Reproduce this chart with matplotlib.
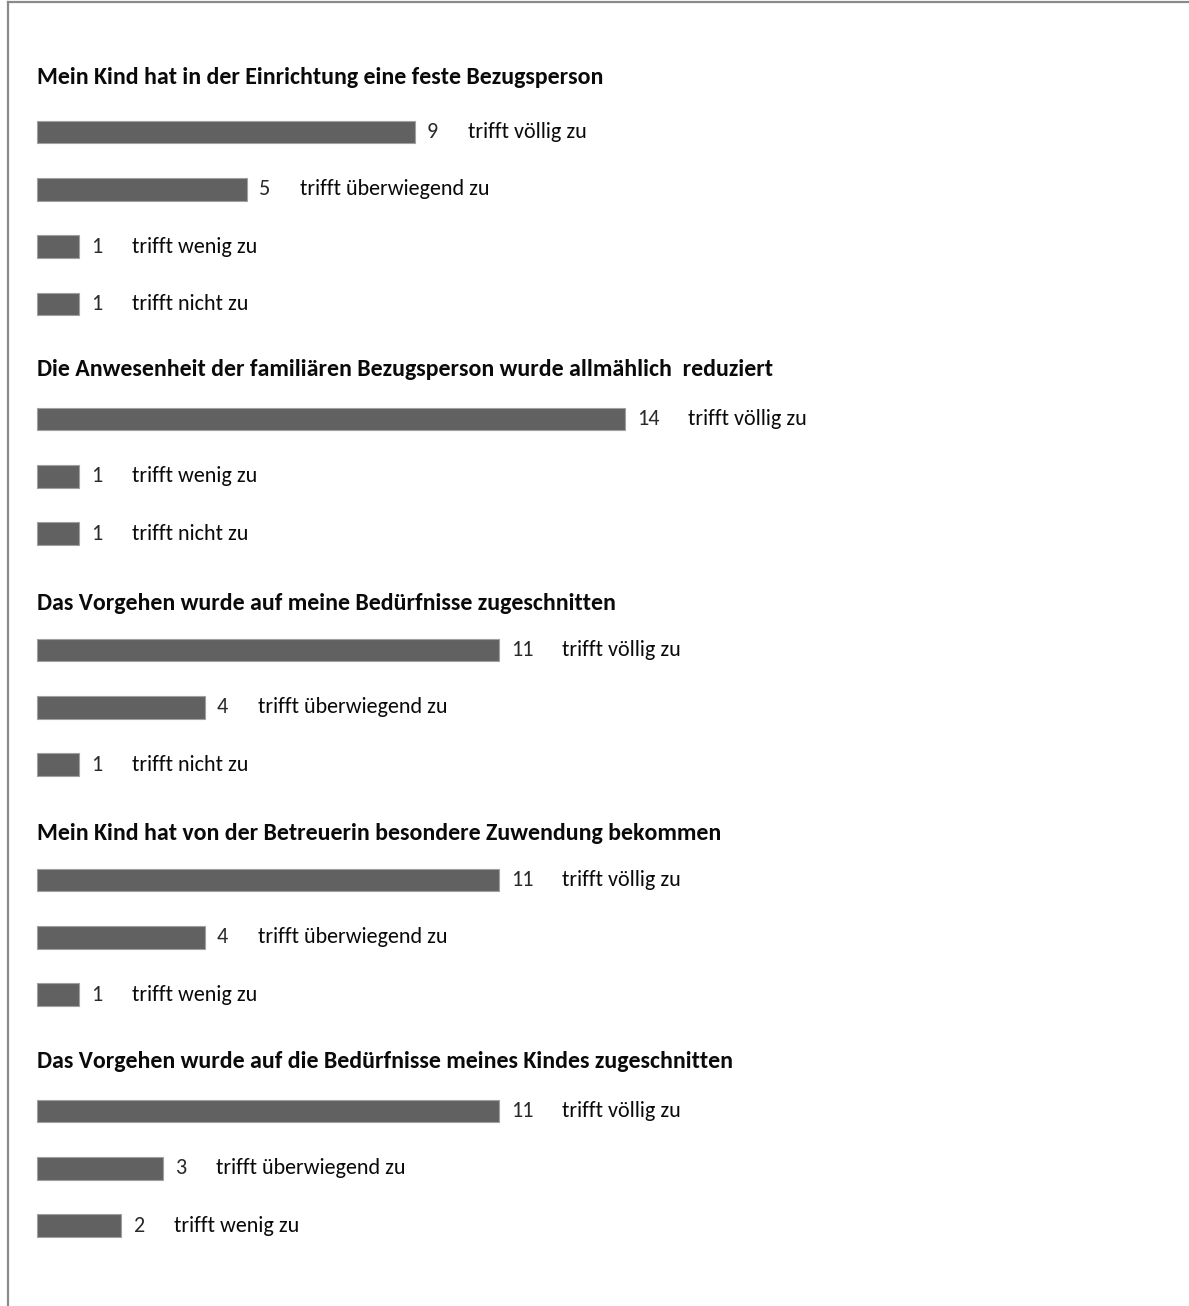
import matplotlib
matplotlib.use("Agg")
import matplotlib.pyplot as plt
from matplotlib import font_manager
from matplotlib.font_manager import FontProperties
from matplotlib.lines import Line2D

# ---------------- data ----------------
questions = [
    "Mein Kind hat in der Einrichtung eine feste Bezugsperson",
    "Die Anwesenheit der familiären Bezugsperson wurde allmählich  reduziert",
    "Das Vorgehen wurde auf meine Bedürfnisse zugeschnitten",
    "Mein Kind hat von der Betreuerin besondere Zuwendung bekommen",
    "Das Vorgehen wurde auf die Bedürfnisse meines Kindes zugeschnitten",
]
q1_labels = ["trifft völlig zu", "trifft überwiegend zu", "trifft wenig zu", "trifft nicht zu"]
q1_values = [9, 5, 1, 1]
q2_labels = ["trifft völlig zu", "trifft wenig zu", "trifft nicht zu"]
q2_values = [14, 1, 1]
q3_labels = ["trifft völlig zu", "trifft überwiegend zu", "trifft nicht zu"]
q3_values = [11, 4, 1]
q4_labels = ["trifft völlig zu", "trifft überwiegend zu", "trifft wenig zu"]
q4_values = [11, 4, 1]
q5_labels = ["trifft völlig zu", "trifft überwiegend zu", "trifft wenig zu"]
q5_values = [11, 3, 2]

groups = [
    (questions[0], q1_labels, q1_values),
    (questions[1], q2_labels, q2_values),
    (questions[2], q3_labels, q3_values),
    (questions[3], q4_labels, q4_values),
    (questions[4], q5_labels, q5_values),
]

# ---------------- fonts ----------------
def find_font(bold):
    cands = []
    for f in font_manager.fontManager.ttflist:
        fn = f.fname.lower()
        name = f.name.lower()
        is_bold = (f.weight in ("bold", 700) or (isinstance(f.weight, int) and f.weight >= 600)
                   or "bold" in fn)
        if is_bold != bold:
            continue
        if "italic" in fn or "oblique" in fn:
            continue
        if "semicond" in fn or "extracond" in fn:
            continue
        if name == "carlito":
            cands.append((0, f.fname))
        elif "narrow" in fn or "narrow" in name:
            cands.append((1, f.fname))
        elif "condensed" in fn and "cjk" not in fn:
            if bold and ("semibold" in fn or "extrabold" in fn or "black" in fn):
                continue
            if (not bold) and ("light" in fn or "thin" in fn or "medium" in fn):
                continue
            cands.append((2, f.fname))
    cands.sort()
    if cands:
        return FontProperties(fname=cands[0][1])
    fam = [n for n in ["Lato", "Roboto", "DejaVu Sans"]
           if n in {f.name for f in font_manager.fontManager.ttflist}][0]
    return FontProperties(family=fam, weight="bold" if bold else "normal")

fp_title = find_font(True)
fp_text = find_font(False)

# ---------------- layout (pixels) ----------------
W, H = 1189, 1306
DPI = 100
PX_PER_UNIT = 42.0
X0_PX = 37.0
title_y = [78, 369, 604, 833, 1062]
first_bar_gap = [54, 50, 46, 47, 49]
row_step = 57.3
bar_h = 22.5

fig = plt.figure(figsize=(W / DPI, H / DPI), dpi=DPI)
ax = fig.add_axes([0, 0, 1, 1])
ax.set_xlim(-X0_PX / PX_PER_UNIT, (W - X0_PX) / PX_PER_UNIT)
ax.set_ylim(H, 0)
ax.axis("off")
renderer = fig.canvas.get_renderer()


def fit_size(text, fp, target_px, base=20.0, max_size=None):
    t = fig.text(0, 0, text, fontproperties=fp, fontsize=base)
    w = t.get_window_extent(renderer=renderer).width
    t.remove()
    s = base * target_px / w
    if max_size is not None:
        s = min(s, max_size)
    return s

title_size = fit_size(questions[0], fp_title, 565, max_size=19)
label_size = fit_size("trifft überwiegend zu", fp_text, 190, max_size=16)
value_size = max(fit_size("14", fp_text, 20, max_size=17), label_size)

bar_color = "#616161"
for (title, labels, values), ty, gap in zip(groups, title_y, first_bar_gap):
    ax.text(0, ty, title, fontproperties=fp_title, fontsize=title_size, color="#0a0a0a",
            ha="left", va="center")
    ys = [ty + gap + i * row_step for i in range(len(values))]
    ax.barh(ys, values, height=bar_h, left=0, color=bar_color,
            edgecolor="#a0a0a0", linewidth=0.8)
    for y, v, lab in zip(ys, values, labels):
        vs = str(v)
        ax.annotate(vs, (v, y), xytext=(12, 0), textcoords="offset pixels",
                    fontproperties=fp_text, fontsize=value_size, color="#2a2a2a",
                    ha="left", va="center")
        ax.annotate(lab, (v, y), xytext=(12 + 10 * len(vs) + 31, 0),
                    textcoords="offset pixels", fontproperties=fp_text,
                    fontsize=label_size, color="#0a0a0a", ha="left", va="center")

# frame lines (top and left)
fig.add_artist(Line2D([8 / W, 8 / W], [0, 1 - 1.5 / H], transform=fig.transFigure,
                      color="#8a8a8a", linewidth=1.6))
fig.add_artist(Line2D([8 / W, 1], [1 - 1.5 / H, 1 - 1.5 / H], transform=fig.transFigure,
                      color="#8a8a8a", linewidth=1.6))

fig.savefig("out.png", dpi=DPI, facecolor="white")
